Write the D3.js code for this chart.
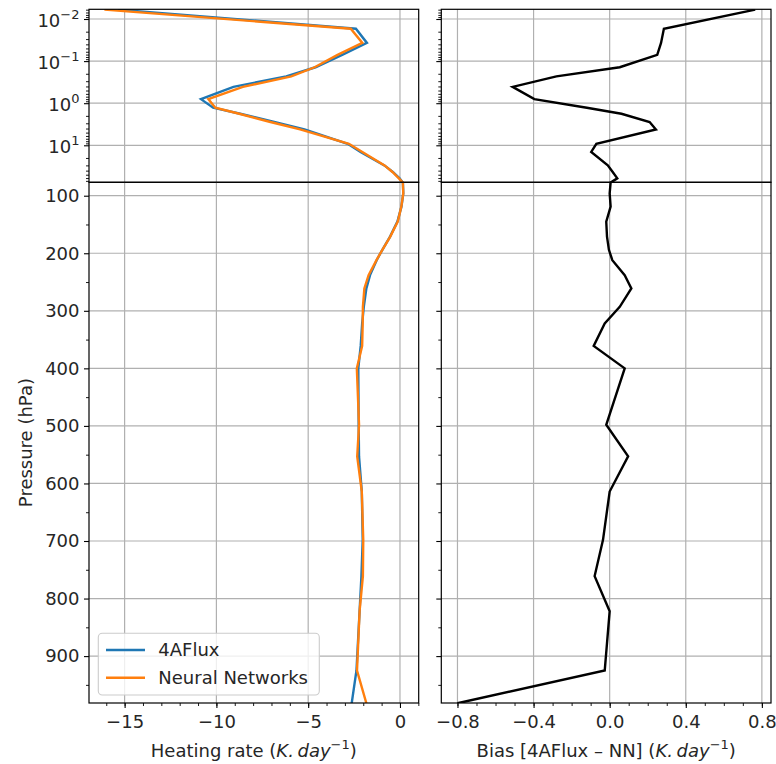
<!DOCTYPE html>
<html>
<head>
<meta charset="utf-8">
<script src="https://cdn.jsdelivr.net/npm/d3@7"></script>
<style>
  body { margin: 0; background: #fff; }
  svg text { font-family: "DejaVu Sans", sans-serif; }
</style>
</head>
<body>
<script>
// pressure levels (hPa), top of atmosphere to surface
const pressure = [0.006, 0.017, 0.037, 0.071, 0.14, 0.23, 0.41, 0.8, 1.28, 1.78, 2.8, 4.2, 9.2, 14.4, 30, 43, 61, 77,
  96, 119, 145, 171, 194, 212, 238, 261, 293, 322, 361, 400, 498, 553, 614, 698, 761, 822, 925, 982];

// heating rates (K/day)
const flux4A = [-15.35, -2.4, -1.8, -3.15, -4.6, -6.2, -9.07, -10.84, -10.18, -8.7, -6.85, -5.2, -2.85, -2.15, -0.85, -0.39, -0.02, 0.16,
  0.18, 0.08, -0.14, -0.54, -0.96, -1.27, -1.63, -1.83, -1.97, -2.06, -2.14, -2.27, -2.25, -2.23, -2.08, -2.03, -2.1, -2.2, -2.37, -2.63];
const neuralNet = [-16.1, -2.68, -2.05, -3.4, -4.65, -5.92, -8.56, -10.44, -10.06, -8.76, -7.06, -5.44, -2.78, -2.05, -0.84, -0.41, -0.06, 0.155,
  0.18, 0.075, -0.12, -0.53, -0.96, -1.28, -1.71, -1.94, -2.02, -2.03, -2.06, -2.35, -2.23, -2.33, -2.08, -2.0, -2.02, -2.2, -2.34, -1.83];
// bias 4AFlux - NN (K/day)
const bias = [0.765, 0.285, 0.27, 0.25, 0.053, -0.28, -0.51, -0.396, -0.12, 0.062, 0.21, 0.243, -0.07, -0.097, -0.01, 0.016, 0.04, 0.005,
  0.0, 0.005, -0.018, -0.014, -0.004, 0.014, 0.079, 0.114, 0.053, -0.026, -0.084, 0.079, -0.018, 0.097, 0.0, -0.035, -0.079, 0.0, -0.026, -0.8];

const heatTicks = [-15, -10, -5, 0];
const biasTicks = [-0.8, -0.4, 0.0, 0.4, 0.8];
const logTicks = [0.01, 0.1, 1, 10];
const linTicks = [100, 200, 300, 400, 500, 600, 700, 800, 900];

const width = 776;
const height = 764;
const top0 = 9.3, mid = 182.3, bottom = 703;
const gridColor = "#b0b0b0";

const svg = d3.select("body")
  .append("svg")
  .attr("width", width)
  .attr("height", height);

const yTop = d3.scaleLog().domain([0.00588, 75.7]).range([top0, mid]);
const yBottom = d3.scaleLinear().domain([76.7, 981.5]).range([mid, bottom]);

const xHeat = d3.scaleLinear().domain([-16.94, 1.02]).range([89, 418.7]);
const xBias = d3.scaleLinear().domain([-0.885, 0.848]).range([441.3, 771]);

const logMinor = [];
for (let k = -3; k <= 1; k++) {
  for (let m = 2; m <= 9; m++) {
    const v = m * Math.pow(10, k);
    if (v > 0.00588 && v < 75.7) logMinor.push(v);
  }
}
const linMinor = d3.range(150, 1000, 100);

let clipCount = 0;

function panel(x, majorX, minorX, fmtX, withYLabels, series) {
  const [xa, xb] = x.range();

  [[yTop, top0, mid, logTicks, logMinor], [yBottom, mid, bottom, linTicks, linMinor]].forEach(([y, ya, yb, majorY, minorY], i) => {
    const clipId = "clip" + (clipCount++);
    svg.append("clipPath").attr("id", clipId)
      .append("rect")
      .attr("x", xa).attr("y", ya)
      .attr("width", xb - xa).attr("height", yb - ya);

    // grid
    svg.append("g").selectAll("line").data(majorX).enter().append("line")
      .attr("x1", d => x(d)).attr("x2", d => x(d))
      .attr("y1", ya).attr("y2", yb)
      .attr("stroke", gridColor).attr("stroke-width", 1.2);
    svg.append("g").selectAll("line").data(majorY).enter().append("line")
      .attr("x1", xa).attr("x2", xb)
      .attr("y1", d => y(d)).attr("y2", d => y(d))
      .attr("stroke", gridColor).attr("stroke-width", 1.2);

    // curves
    series.forEach(s => {
      svg.append("path")
        .datum(pressure.map((p, j) => [s.values[j], p]))
        .attr("clip-path", `url(#${clipId})`)
        .attr("fill", "none")
        .attr("stroke", s.color)
        .attr("stroke-width", 2.4)
        .attr("stroke-linejoin", "miter")
        .attr("d", d3.line().x(d => x(d[0])).y(d => y(d[1])));
    });

    // y axis
    const yAxis = d3.axisLeft(y).tickValues(majorY).tickSize(5).tickPadding(4.5)
      .tickFormat(withYLabels ? (i === 0 ? () => "" : d3.format("d")) : () => "");
    const gy = svg.append("g").attr("transform", `translate(${xa},0)`).call(yAxis);
    gy.select(".domain").remove();
    gy.selectAll("line").attr("stroke", "#000").attr("stroke-width", 1.1);
    gy.selectAll("text").attr("font-size", 18).attr("fill", "#262626");
    if (withYLabels && i === 0) {
      gy.selectAll(".tick text").attr("dy", "0.42em").each(function (d) {
        const e = Math.round(Math.log10(d));
        const t = d3.select(this);
        t.append("tspan").text("10");
        t.append("tspan").attr("dy", -8.4).attr("font-size", 13).text(e < 0 ? "\u2212" + (-e) : String(e));
      });
    }
    const gym = svg.append("g").attr("transform", `translate(${xa},0)`)
      .call(d3.axisLeft(y).tickValues(minorY).tickSize(3).tickFormat(() => ""));
    gym.select(".domain").remove();
    gym.selectAll("line").attr("stroke", "#000").attr("stroke-width", 0.9);

    // frame
    svg.append("rect")
      .attr("x", xa).attr("y", ya)
      .attr("width", xb - xa).attr("height", yb - ya)
      .attr("fill", "none").attr("stroke", "#000").attr("stroke-width", 1.2);
  });

  // x axis on the lower subplot
  const gx = svg.append("g").attr("transform", `translate(0,${bottom})`)
    .call(d3.axisBottom(x).tickValues(majorX).tickSize(5).tickPadding(7).tickFormat(fmtX));
  gx.select(".domain").remove();
  gx.selectAll("line").attr("stroke", "#000").attr("stroke-width", 1.1);
  gx.selectAll("text").attr("font-size", 18).attr("fill", "#262626");
  const gxm = svg.append("g").attr("transform", `translate(0,${bottom})`)
    .call(d3.axisBottom(x).tickValues(minorX).tickSize(3).tickFormat(() => ""));
  gxm.select(".domain").remove();
  gxm.selectAll("line").attr("stroke", "#000").attr("stroke-width", 0.9);
}

panel(xHeat, heatTicks, d3.range(-16, 2, 1), d3.format("d"), true, [
  { values: flux4A, color: "#1f77b4" },
  { values: neuralNet, color: "#ff7f0e" }
]);
panel(xBias, biasTicks, d3.range(-8, 9, 1).map(d => d / 10), d3.format(".1f"), false, [
  { values: bias, color: "#000" }
]);

// axis labels
function unitLabel(cx, prefix) {
  const t = svg.append("text")
    .attr("x", cx).attr("y", 757)
    .attr("text-anchor", "middle")
    .attr("font-size", 18)
    .attr("fill", "#262626");
  t.append("tspan").text(prefix + "(");
  t.append("tspan").attr("font-style", "italic").text("K.\u2009day");
  t.append("tspan").attr("dy", -8).attr("font-size", 13).text("\u22121");
  t.append("tspan").attr("dy", 8).text(")");
}
unitLabel(253.8, "Heating rate ");
unitLabel(606.2, "Bias [4AFlux \u2013 NN] ");

svg.append("text")
  .attr("transform", "translate(32,442.6) rotate(-90)")
  .attr("text-anchor", "middle")
  .attr("font-size", 18)
  .attr("fill", "#262626")
  .text("Pressure (hPa)");

// legend
const legend = svg.append("g");
legend.append("rect")
  .attr("x", 98.3).attr("y", 633.3)
  .attr("width", 221).attr("height", 61.7)
  .attr("rx", 4)
  .attr("fill", "#fff").attr("fill-opacity", 0.8)
  .attr("stroke", "#cccccc").attr("stroke-width", 1.1);
[["4AFlux", "#1f77b4", 650], ["Neural Networks", "#ff7f0e", 677.7]].forEach(([name, color, y]) => {
  legend.append("line")
    .attr("x1", 106).attr("x2", 145)
    .attr("y1", y).attr("y2", y)
    .attr("stroke", color).attr("stroke-width", 2.4);
  legend.append("text")
    .attr("x", 158.3).attr("y", y)
    .attr("dy", "0.36em")
    .attr("font-size", 18)
    .attr("fill", "#262626")
    .text(name);
});
</script>
</body>
</html>
